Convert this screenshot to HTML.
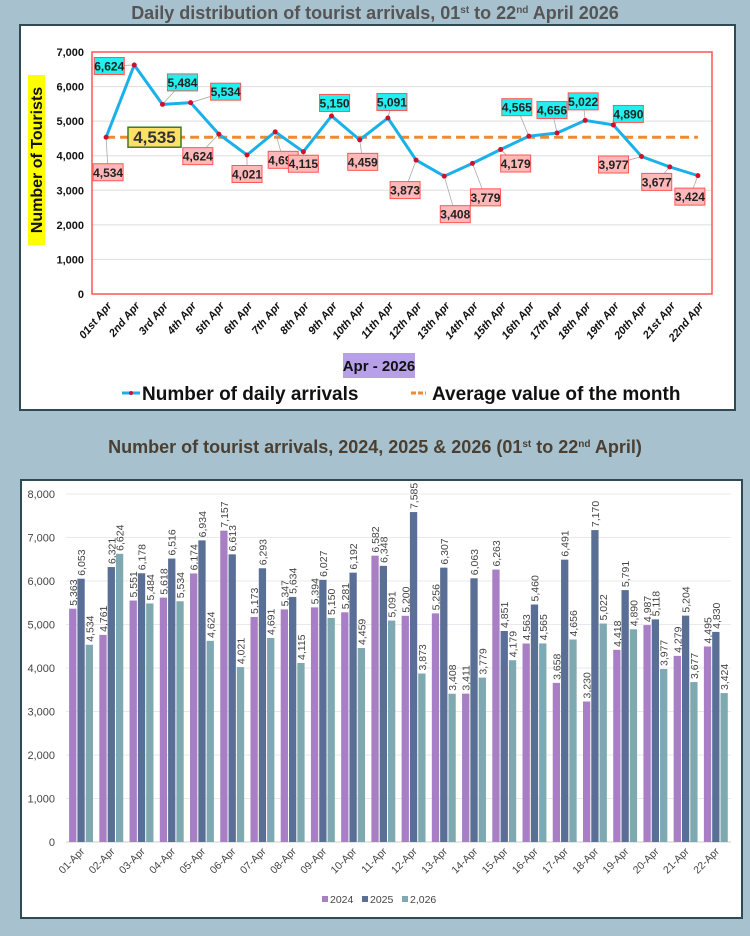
<!DOCTYPE html>
<html><head><meta charset="utf-8">
<style>
body{margin:0;width:750px;height:936px;background:#a7c1cf;font-family:"Liberation Sans",sans-serif;overflow:hidden;position:relative}
.t{position:absolute;left:0;width:750px;text-align:center;font-weight:bold;line-height:22px}
sup{font-size:10px;line-height:0;vertical-align:6px}
svg{position:absolute;left:0;top:0}
</style></head><body>
<svg id="c" width="750" height="936"></svg>
<div class="t" style="top:2px;font-size:18px;color:#555">Daily distribution of tourist arrivals, 01<sup>st</sup> to 22<sup>nd</sup> April 2026</div>
<div class="t" style="top:436px;font-size:18px;color:#4a3f30;font-family:'Liberation Sans Narrow','Liberation Sans',sans-serif">Number of tourist arrivals, 2024, 2025 &amp; 2026 (01<sup>st</sup> to 22<sup>nd</sup> April)</div>
<script>
const days=["01st Apr","2nd Apr","3rd Apr","4th Apr","5th Apr","6th Apr","7th Apr","8th Apr","9th Apr","10th Apr","11th Apr","12th Apr","13th Apr","14th Apr","15th Apr","16th Apr","17th Apr","18th Apr","19th Apr","20th Apr","21st Apr","22nd Apr"];
const arrivals2026=[4534,6624,5484,5534,4624,4021,4691,4115,5150,4459,5091,3873,3408,3779,4179,4565,4656,5022,4890,3977,3677,3424];
const avgValue=4535;
const topTicks=[0,1000,2000,3000,4000,5000,6000,7000];
const cats=["01-Apr","02-Apr","03-Apr","04-Apr","05-Apr","06-Apr","07-Apr","08-Apr","09-Apr","10-Apr","11-Apr","12-Apr","13-Apr","14-Apr","15-Apr","16-Apr","17-Apr","18-Apr","19-Apr","20-Apr","21-Apr","22-Apr"];
const s2024=[5363,4761,5551,5618,6174,7157,5173,5347,5394,5281,6582,5200,5256,3411,6263,4563,3658,3230,4418,4987,4279,4495];
const s2025=[6053,6321,6178,6516,6934,6613,6293,5634,6027,6192,6348,7585,6307,6063,4851,5460,6491,7170,5791,5118,5204,4830];
const s2026=[4534,6624,5484,5534,4624,4021,4691,4115,5150,4459,5091,3873,3408,3779,4179,4565,4656,5022,4890,3977,3677,3424];
const botTicks=[0,1000,2000,3000,4000,5000,6000,7000,8000];
const seriesNames=["2024","2025","2,026"];
// label offsets (layout only) and label style (cyan above / pink below)
const lblOff=[[2,35],[-25,1],[20,-22],[35,-11],[-21,22],[0,19],[8,28],[0,12],[3,-13],[3,22],[4,-16],[-11,30],[11,38],[13,34],[15,14],[-12,-29],[-5,-23],[-2,-19],[15,-11],[-28,8],[-13,15],[-8,21]];
const lblCyan=[0,1,1,1,0,0,0,0,1,0,1,0,0,0,0,1,1,1,1,0,0,0];
const svg=document.getElementById('c');const NS="http://www.w3.org/2000/svg";
function mk(t,a,p){const e=document.createElementNS(NS,t);for(const k in a)e.setAttribute(k,a[k]);(p||svg).appendChild(e);return e;}
const NF='Liberation Sans Narrow, Liberation Sans, sans-serif';
const p1=mk('rect',{x:20,y:25,width:715,height:385,fill:'#fff',stroke:'#2f4a55','stroke-width':2});


const p2=mk('rect',{x:21,y:480,width:721,height:438,fill:'#fff',stroke:'#2f4a55','stroke-width':2});


// top chart
const L=92,R=712,Y0=294,Y7=52;
const ty=v=>Y0-(v/7000)*(Y0-Y7);
const tx=i=>L+(R-L)/days.length*(i+0.5);
topTicks.forEach(v=>{
 if(v>0){const g=mk('line',{x1:L,x2:R,y1:ty(v),y2:ty(v),stroke:'#ddd'});}
 const t=mk('text',{x:84,y:ty(v)+4,'text-anchor':'end','font-size':11,'font-weight':'bold',fill:'#111'});t.textContent=v.toLocaleString('en-US');
 
});
const fr=mk('rect',{x:L,y:Y7,width:R-L,height:Y0-Y7,fill:'none',stroke:'#f55','stroke-width':1.5});

days.forEach((d,i)=>{const t=mk('text',{transform:`translate(${tx(i)+6},${Y0+12}) rotate(-50)`,'text-anchor':'end','font-size':11,'font-weight':'bold','font-style':'italic',fill:'#111'});t.textContent=d;
 });
const av=mk('line',{x1:tx(0),x2:tx(days.length-1),y1:ty(avgValue),y2:ty(avgValue),stroke:'#f08a30','stroke-width':3,'stroke-dasharray':'9,5'});

const ln=mk('polyline',{points:arrivals2026.map((v,i)=>tx(i)+','+ty(v)).join(' '),fill:'none',stroke:'#1ab0e8','stroke-width':3});

arrivals2026.forEach((v,i)=>{
 const x=tx(i),y=ty(v),o=lblOff[i],cx=x+o[0],cy=y+o[1],up=lblCyan[i];
 mk('line',{x1:x,y1:y,x2:cx,y2:cy,stroke:'#aaa','stroke-width':0.8});
});
arrivals2026.forEach((v,i)=>{
 const x=tx(i),y=ty(v),o=lblOff[i],cx=x+o[0],cy=y+o[1],up=lblCyan[i];
 const b=mk('rect',{x:cx-15,y:cy-8.5,width:30,height:17,fill:up?'#22f0f0':'#ffb8b8',stroke:'#f55','stroke-width':1});
 
 const t=mk('text',{x:cx,y:cy+4.5,'text-anchor':'middle','font-size':12,'font-weight':'bold',fill:'#222','font-family':NF});t.textContent=v.toLocaleString('en-US');
 
 const c=mk('circle',{cx:x,cy:y,r:2.5,fill:'#d0102a'});
});
const ab=mk('rect',{x:128,y:ty(avgValue)-10,width:53,height:20,fill:'#ffe066',stroke:'#3a7a2a','stroke-width':1.5});

const at=mk('text',{x:154.5,y:ty(avgValue)+6,'text-anchor':'middle','font-size':17,'font-weight':'bold',fill:'#333'});at.textContent=avgValue.toLocaleString('en-US');

const yb=mk('rect',{x:28,y:75,width:17,height:170,fill:'#ffff00'});
const yt=mk('text',{transform:'translate(42,160) rotate(-90)','text-anchor':'middle','font-size':16,'font-weight':'bold',fill:'#111'});yt.textContent='Number of Tourists';

const xb=mk('rect',{x:343,y:353,width:72,height:25,fill:'#b8a0e8'});
const xt=mk('text',{x:379,y:371,'text-anchor':'middle','font-size':15,'font-weight':'bold',fill:'#111','font-family':NF});xt.textContent='Apr - 2026';

mk('line',{x1:122,x2:140,y1:393,y2:393,stroke:'#1ab0e8','stroke-width':3});mk('circle',{cx:131,cy:393,r:2,fill:'#d0102a'});
const l1=mk('text',{x:142,y:400,'font-size':19,'font-weight':'bold',fill:'#111','font-family':NF});l1.textContent='Number of daily arrivals';

mk('line',{x1:411,x2:426,y1:393,y2:393,stroke:'#f08a30','stroke-width':3,'stroke-dasharray':'5,2'});
const l2=mk('text',{x:432,y:400,'font-size':19,'font-weight':'bold',fill:'#111','font-family':NF});l2.textContent='Average value of the month';

// bottom chart
const BL=66,BR=731,B0=842,B8=494;
const by=v=>B0-(v/8000)*(B0-B8);
const step=(BR-BL)/cats.length;
botTicks.forEach(v=>{
 const g=mk('line',{x1:BL,x2:BR,y1:by(v),y2:by(v),stroke:v?'#e8e8ee':'#ccc'});
 const t=mk('text',{x:55,y:by(v)+4,'text-anchor':'end','font-size':11,fill:'#444'});t.textContent=v.toLocaleString('en-US');
 
});
const series=[s2024,s2025,s2026],cols=['#a87ec4','#5a6f96','#7fa9b0'],bw=7.3;
cats.forEach((c,i)=>{
 const cx=BL+step*(i+0.5);
 series.forEach((s,k)=>{
  const x=cx-12+k*8.3;
  const r=mk('rect',{x:x,y:by(s[i]),width:bw,height:B0-by(s[i]),fill:cols[k]});
  
  const t=mk('text',{transform:`translate(${x+bw/2+4},${by(s[i])-3}) rotate(-90)`,'font-size':10.5,fill:'#444'});t.textContent=s[i].toLocaleString('en-US');
  
 });
 const t=mk('text',{transform:`translate(${cx+4},${B0+10}) rotate(-45)`,'text-anchor':'end','font-size':10.5,fill:'#444'});t.textContent=c;
 
});
seriesNames.forEach((n,k)=>{
 const x=322+k*40;
 mk('rect',{x:x,y:896,width:6,height:6,fill:cols[k]});
 const t=mk('text',{x:x+8,y:903,'font-size':10.5,fill:'#444'});t.textContent=n;
 
});
</script>
</body></html>
